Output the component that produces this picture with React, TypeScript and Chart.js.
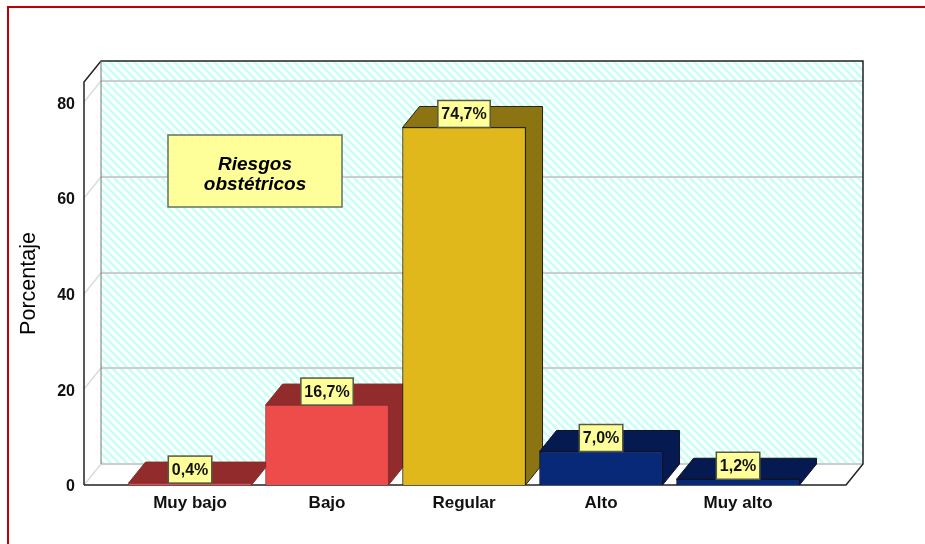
import React, { useEffect, useRef } from "react";
import { Chart, registerables } from "chart.js";

Chart.register(...registerables);

const categories = ["Muy bajo", "Bajo", "Regular", "Alto", "Muy alto"];
const values = [0.4, 16.7, 74.7, 7.0, 1.2];
const valueLabels = ["0,4%", "16,7%", "74,7%", "7,0%", "1,2%"];
const yTicks = [0, 20, 40, 60, 80];
const frontColors = ["#EE4B4B", "#EE4B4B", "#E0B81C", "#082878", "#082878"];
const darkColors = ["#922C2C", "#922C2C", "#8C7412", "#041A50", "#041A50"];
const edgeColors = ["#8A2C2C", "#8A2C2C", "#222211", "#111122", "#111122"];
const noteLines = ["Riesgos", "obstétricos"];

const DX = 17;
const DY = 21;
const YELLOW = "#FFFF99";
const FONT = "'Liberation Sans', Arial, sans-serif";

function stripes(ctx: CanvasRenderingContext2D) {
  const n = 8;
  const c = document.createElement("canvas");
  c.width = n;
  c.height = n;
  const p = c.getContext("2d")!;
  p.fillStyle = "#FFFFFF";
  p.fillRect(0, 0, n, n);
  p.strokeStyle = "#C6FFF5";
  p.lineWidth = 2.5;
  for (let i = -n; i <= n; i += n) {
    p.beginPath();
    p.moveTo(i - 1, -1);
    p.lineTo(i + n + 1, n + 1);
    p.stroke();
  }
  return ctx.createPattern(c, "repeat")!;
}

const frame3d = {
  id: "frame3d",
  beforeDatasetsDraw(chart: any) {
    const { ctx, chartArea: a } = chart;
    const y = chart.scales.y;
    const left = a.left, right = a.right, top = a.top, bottom = a.bottom;
    ctx.save();
    // page border
    ctx.strokeStyle = "#C00000";
    ctx.lineWidth = 2;
    ctx.beginPath();
    ctx.moveTo(8, 544);
    ctx.lineTo(8, 7);
    ctx.lineTo(925, 7);
    ctx.stroke();
    // back wall
    ctx.fillStyle = stripes(ctx);
    ctx.fillRect(left + DX, top - DY, right - left, bottom - top);
    // grid lines
    yTicks.forEach((t) => {
      const py = Math.round(y.getPixelForValue(t));
      ctx.strokeStyle = "#DADCDB";
      ctx.lineWidth = 1.5;
      ctx.beginPath();
      ctx.moveTo(left, py);
      ctx.lineTo(left + DX, py - DY);
      ctx.stroke();
      ctx.strokeStyle = "#CACDCB";
      ctx.lineWidth = 2;
      ctx.beginPath();
      ctx.moveTo(left + DX, py - DY);
      ctx.lineTo(right + DX, py - DY);
      ctx.stroke();
    });
    // frame
    ctx.strokeStyle = "#222222";
    ctx.lineWidth = 1.5;
    ctx.beginPath();
    ctx.moveTo(left, bottom);
    ctx.lineTo(left, top);
    ctx.lineTo(left + DX, top - DY);
    ctx.lineTo(right + DX, top - DY);
    ctx.lineTo(right + DX, bottom - DY);
    ctx.lineTo(right, bottom);
    ctx.lineTo(left, bottom);
    ctx.stroke();
    ctx.strokeStyle = "#777777";
    ctx.lineWidth = 1;
    ctx.beginPath();
    ctx.moveTo(left + DX, top - DY);
    ctx.lineTo(left + DX, bottom - DY);
    ctx.stroke();
    // note box
    const bx = 168, by = 135, bw = 174, bh = 72;
    ctx.fillStyle = YELLOW;
    ctx.strokeStyle = "#667066";
    ctx.lineWidth = 1.5;
    ctx.fillRect(bx, by, bw, bh);
    ctx.strokeRect(bx, by, bw, bh);
    ctx.fillStyle = "#000";
    ctx.font = `italic bold 19px ${FONT}`;
    ctx.textAlign = "center";
    ctx.textBaseline = "middle";
    noteLines.forEach((l, i) => ctx.fillText(l, bx + bw / 2, by + 30 + i * 20));
    // 3D faces of bars
    chart.getDatasetMeta(0).data.forEach((b: any, i: number) => {
      const half = b.width / 2;
      const l = b.x - half, r = b.x + half, t = b.y, bt = b.base;
      ctx.fillStyle = darkColors[i];
      ctx.strokeStyle = edgeColors[i];
      ctx.lineWidth = 1;
      ctx.beginPath();
      ctx.moveTo(l, t);
      ctx.lineTo(l + DX, t - DY);
      ctx.lineTo(r + DX, t - DY);
      ctx.lineTo(r + DX, bt - DY);
      ctx.lineTo(r, bt);
      ctx.lineTo(r, t);
      ctx.closePath();
      ctx.fill();
      ctx.stroke();
    });
    ctx.restore();
  },
  afterDatasetsDraw(chart: any) {
    const { ctx } = chart;
    ctx.save();
    ctx.font = `bold 16px ${FONT}`;
    ctx.textAlign = "center";
    ctx.textBaseline = "middle";
    chart.getDatasetMeta(0).data.forEach((b: any, i: number) => {
      const text = valueLabels[i];
      const w = ctx.measureText(text).width + 7;
      const h = 27;
      const x = b.x - w / 2, y = b.y - h;
      ctx.fillStyle = YELLOW;
      ctx.strokeStyle = "#555A44";
      ctx.lineWidth = 1.5;
      ctx.fillRect(x, y, w, h);
      ctx.strokeRect(x, y, w, h);
      ctx.fillStyle = "#111";
      ctx.fillText(text, b.x, y + h / 2 + 1);
    });
    ctx.restore();
  },
};

export default function App() {
  const ref = useRef<HTMLCanvasElement>(null);
  useEffect(() => {
    const chart = new Chart(ref.current!, {
      type: "bar",
      data: {
        datasets: [
          {
            data: values.map((v, i) => ({ x: i, y: v })),
            backgroundColor: frontColors,
            borderColor: edgeColors,
            borderWidth: 1,
            barThickness: 123,
          },
        ],
      },
      options: {
        responsive: false,
        animation: false,
        layout: { padding: { top: 82, right: 79, left: 0, bottom: 0 } },
        plugins: { legend: { display: false }, tooltip: { enabled: false } },
        scales: {
          x: {
            type: "linear",
            offset: false,
            min: -0.774,
            max: 4.788,
            grid: { display: false },
            border: { display: false },
            afterBuildTicks: (s: any) => {
              s.ticks = categories.map((_, i) => ({ value: i }));
            },
            afterFit: (s: any) => {
              s.height = 59;
            },
            ticks: {
              autoSkip: false,
              maxRotation: 0,
              padding: 0,
              color: "#111",
              font: { family: FONT, weight: "bold", size: 17 },
              callback: (v: any) => categories[v as number] ?? "",
            },
          },
          y: {
            min: 0,
            max: 84.2,
            grid: { display: false },
            border: { display: false },
            afterBuildTicks: (s: any) => {
              s.ticks = yTicks.map((value) => ({ value }));
            },
            afterFit: (s: any) => {
              s.width = 84;
            },
            title: {
              display: true,
              text: "Porcentaje",
              color: "#000",
              font: { family: FONT, size: 21.5, weight: "normal" },
              padding: { top: 16, bottom: 0 },
            },
            ticks: {
              padding: 1,
              labelOffset: 2,
              color: "#111",
              font: { family: FONT, weight: "bold", size: 16 },
            },
          },
        },
      },
      plugins: [frame3d],
    } as any);
    return () => chart.destroy();
  }, []);
  return (
    <canvas
      ref={ref}
      width={925}
      height={544}
      style={{ position: "fixed", left: 0, top: 0, width: 925, height: 544 }}
    />
  );
}
